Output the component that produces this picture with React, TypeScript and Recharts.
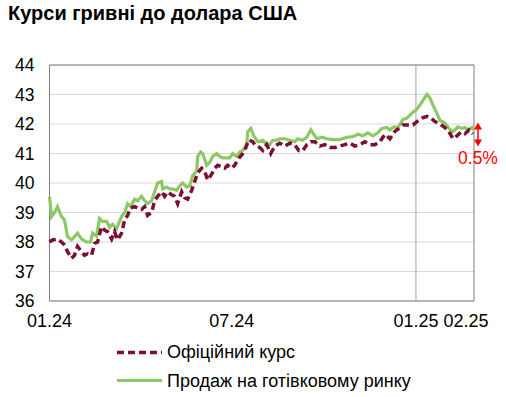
import React from 'react'
import {
  LineChart,
  Line,
  XAxis,
  YAxis,
  CartesianGrid,
  ReferenceLine,
  ReferenceArea,
} from 'recharts'

// days since 01.01.2024
const cashDays = [
  0, 2, 5, 8, 12, 15, 18, 22, 25, 28, 32, 37, 41, 43, 47, 50, 53, 57, 60, 63, 67, 72, 75, 78, 81, 85,
  88, 92, 95, 98, 102, 105, 108, 112, 113, 117, 120, 123, 127, 130, 133, 137, 140, 143, 147, 148, 151,
  153, 157, 160, 163, 167, 170, 173, 177, 180, 183, 187, 190, 193, 197, 198, 201, 204, 208, 213, 217,
  220, 223, 227, 230, 235, 240, 245, 248, 253, 257, 261, 263, 267, 272, 277, 283, 290, 297, 303, 308,
  313, 318, 323, 328, 332, 337, 340, 344, 348, 353, 357, 360, 363, 366, 370, 373, 377, 380, 383, 387,
  390, 394, 398, 402, 405, 408, 412, 415, 418, 422, 424,
]
const cashRates = [
  39.54, 38.86, 39.0, 39.2, 38.86, 38.75, 38.18, 38.07, 38.18, 38.3, 38.1, 38.0, 38.0, 38.3, 38.2,
  38.8, 38.7, 38.7, 38.5, 38.6, 38.45, 38.86, 39.0, 39.3, 39.2, 39.45, 39.4, 39.55, 39.4, 39.3, 39.4,
  39.7, 40.0, 40.05, 39.8, 39.86, 39.8, 39.8, 39.75, 39.9, 40.0, 39.86, 39.9, 40.25, 40.4, 40.9, 41.05,
  41.0, 40.6, 40.7, 40.9, 41.0, 40.9, 40.85, 40.85, 40.85, 41.0, 40.9, 41.05, 41.1, 41.3, 41.74, 41.85,
  41.6, 41.4, 41.45, 41.3, 41.3, 41.45, 41.45, 41.5, 41.5, 41.45, 41.4, 41.5, 41.45, 41.55, 41.8, 41.7,
  41.5, 41.55, 41.5, 41.47, 41.47, 41.55, 41.57, 41.65, 41.6, 41.7, 41.6, 41.7, 41.85, 41.88, 41.8,
  41.9, 41.88, 42.15, 42.2, 42.3, 42.4, 42.47, 42.64, 42.8, 43.0, 42.88, 42.64, 42.36, 42.12, 42.06,
  41.9, 41.73, 41.8, 41.9, 41.85, 41.88, 41.8, 41.88, 41.8,
]

const officialDays = [
  0, 3, 8, 12, 15, 18, 22, 25, 28, 32, 35, 38, 42, 45, 48, 52, 55, 58, 62, 65, 68, 72, 75, 78, 81, 85,
  88, 92, 95, 98, 102, 105, 108, 112, 115, 118, 122, 125, 128, 132, 135, 138, 142, 145, 148, 152, 155,
  158, 162, 165, 168, 172, 175, 178, 182, 185, 188, 192, 195, 199, 203, 205, 210, 213, 217, 221, 225,
  230, 235, 240, 245, 249, 253, 257, 261, 265, 270, 275, 280, 285, 290, 295, 300, 305, 310, 315, 320,
  325, 330, 335, 340, 345, 349, 353, 358, 363, 367, 372, 377, 381, 385, 390, 394, 398, 403, 407, 411,
  415, 419, 423,
]
const officialRates = [
  38.0, 38.07, 38.1, 38.0, 37.9, 37.67, 37.45, 37.55, 37.85, 37.67, 37.55, 37.6, 37.55, 37.95, 38.0,
  38.52, 38.4, 38.35, 38.1, 38.35, 38.07, 38.3, 38.75, 38.9, 39.15, 39.2, 39.15, 39.1, 39.2, 38.9, 39.0,
  39.4, 39.55, 39.7, 39.55, 39.7, 39.6, 39.55, 39.3, 39.7, 39.5, 39.45, 39.75, 40.05, 40.35, 40.5, 40.4,
  40.1, 40.3, 40.5, 40.6, 40.55, 40.5, 40.6, 40.5, 40.6, 40.8, 40.95, 41.1, 41.46, 41.4, 41.3, 41.2,
  41.1, 41.3, 41.0, 41.25, 41.35, 41.25, 41.35, 41.3, 41.1, 41.1, 41.3, 41.4, 41.4, 41.25, 41.3, 41.2,
  41.2, 41.25, 41.3, 41.35, 41.25, 41.3, 41.4, 41.3, 41.3, 41.4, 41.65, 41.5, 41.75, 41.85, 41.97,
  41.97, 41.97, 42.08, 42.2, 42.26, 42.2, 42.08, 42.0, 41.9, 41.8, 41.5, 41.6, 41.73, 41.67, 41.8,
  41.67,
]

const tickDays = [0, 182, 366, 416]
const tickLabels = ['01.24', '07.24', '01.25', '02.25']
const yTicks = [36, 37, 38, 39, 40, 41, 42, 43, 44]

const cashData = cashDays.map((day, i) => ({ day, v: cashRates[i] }))
const officialData = officialDays.map((day, i) => ({ day, v: officialRates[i] }))

const GREEN = '#8dc866'
const MAROON = '#7b1030'
const RED = '#ff0000'
const FONT = '"Liberation Sans", Arial, sans-serif'

function SpreadArrow(props: any) {
  const { x1, y1, y2 } = props
  const top = Math.min(y1, y2)
  const bottom = Math.max(y1, y2)
  return (
    <g>
      <line x1={x1} y1={top + 5} x2={x1} y2={bottom - 5} stroke={RED} strokeWidth={1.5} />
      <polygon points={`${x1},${top} ${x1 - 4},${top + 7} ${x1 + 4},${top + 7}`} fill={RED} />
      <polygon points={`${x1},${bottom} ${x1 - 4},${bottom - 7} ${x1 + 4},${bottom - 7}`} fill={RED} />
      <text x={x1} y={bottom + 18} textAnchor="middle" fill={RED} fontSize={17.5} fontFamily={FONT}>
        0.5%
      </text>
    </g>
  )
}

export default function App() {
  return (
    <div style={{ position: 'absolute', left: 0, top: 0, width: 506, height: 397, background: '#fff', fontFamily: FONT }}>
      <div style={{ position: 'absolute', left: 8, top: 3, fontSize: 20, fontWeight: 'bold', lineHeight: 1, color: '#000' }}>
        Курси гривні до долара США
      </div>

      <LineChart width={506} height={397} margin={{ top: 65, right: 32, bottom: 66, left: 0 }}>
        <CartesianGrid vertical={false} stroke="#d9d9d9" strokeWidth={1} />
        <XAxis
          dataKey="day"
          type="number"
          domain={[0, 424]}
          ticks={tickDays}
          tickFormatter={(d: number) => tickLabels[tickDays.indexOf(d)]}
          axisLine={false}
          tickLine={false}
          tickSize={0}
          tickMargin={13}
          height={30}
          interval={0}
          tick={{ fill: '#000', fontSize: 18, fontFamily: FONT }}
        />
        <YAxis
          type="number"
          domain={[36, 44]}
          ticks={yTicks}
          axisLine={false}
          tickLine={false}
          tickSize={0}
          tickMargin={15}
          width={49.5}
          interval={0}
          tick={{ fill: '#000', fontSize: 17.5, fontFamily: FONT }}
        />
        <ReferenceArea x1={0} x2={424} y1={36} y2={44} fill="none" stroke="#7f7f7f" strokeWidth={1} />
        <ReferenceLine x={366} stroke="#a6a6a6" strokeWidth={1} />
        <Line
          data={cashData}
          dataKey="v"
          stroke={GREEN}
          strokeWidth={3.2}
          dot={false}
          type="linear"
          isAnimationActive={false}
        />
        <Line
          data={officialData}
          dataKey="v"
          stroke={MAROON}
          strokeWidth={3.5}
          strokeDasharray="7 4"
          dot={false}
          type="linear"
          isAnimationActive={false}
        />
        <ReferenceLine
          segment={[{ x: 428, y: 42.05 }, { x: 428, y: 41.24 }]}
          ifOverflow="visible"
          shape={SpreadArrow}
        />
      </LineChart>

      <svg style={{ position: 'absolute', left: 0, top: 0 }} width={506} height={397} pointerEvents="none">
        <line x1={117} y1={352.5} x2={162} y2={352.5} stroke={MAROON} strokeWidth={3.5} strokeDasharray="7 4" />
        <line x1={117} y1={380.5} x2={162} y2={380.5} stroke={GREEN} strokeWidth={3.2} />
      </svg>
      <div style={{ position: 'absolute', left: 167, top: 343, fontSize: 18, lineHeight: 1, color: '#000' }}>
        Офіційний курс
      </div>
      <div style={{ position: 'absolute', left: 167, top: 372, fontSize: 18, lineHeight: 1, color: '#000' }}>
        Продаж на готівковому ринку
      </div>
    </div>
  )
}
